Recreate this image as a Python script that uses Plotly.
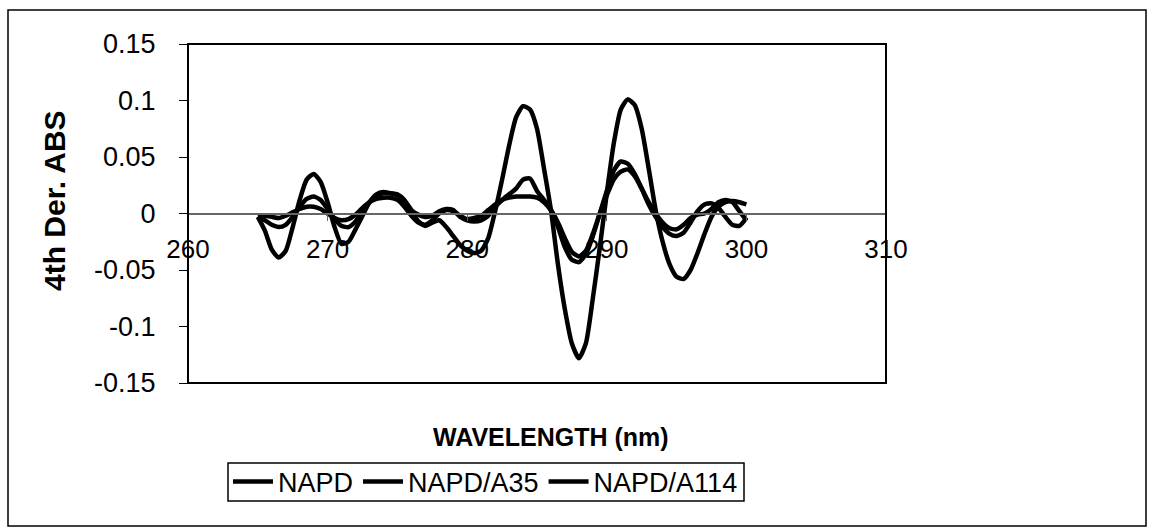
import plotly.graph_objects as go

# Wavelength grid (nm) and fourth-derivative absorbance of the three samples
wavelength = [265.0, 265.5, 266.0, 266.5, 267.0, 267.5, 268.0, 268.5, 269.0, 269.5,
              270.0, 270.5, 271.0, 271.5, 272.0, 272.5, 273.0, 273.5, 274.0, 274.5,
              275.0, 275.5, 276.0, 276.5, 277.0, 277.5, 278.0, 278.5, 279.0, 279.5,
              280.0, 280.5, 281.0, 281.5, 282.0, 282.5, 283.0, 283.5, 284.0, 284.5,
              285.0, 285.5, 286.0, 286.5, 287.0, 287.5, 288.0, 288.5, 289.0, 289.5,
              290.0, 290.5, 291.0, 291.5, 292.0, 292.5, 293.0, 293.5, 294.0, 294.5,
              295.0, 295.5, 296.0, 296.5, 297.0, 297.5, 298.0, 298.5, 299.0, 299.5,
              300.0]

napd = [-0.003, -0.015, -0.032, -0.039, -0.033, -0.012, 0.012, 0.030, 0.035, 0.028,
        0.010, -0.012, -0.027, -0.025, -0.014, -0.002, 0.010, 0.017, 0.019, 0.018,
        0.017, 0.012, 0.003, -0.007, -0.011, -0.008, -0.006, -0.012, -0.020, -0.028,
        -0.033, -0.035, -0.033, -0.022, 0.002, 0.030, 0.060, 0.085, 0.095, 0.092,
        0.075, 0.040, 0.003, -0.045, -0.085, -0.115, -0.128, -0.115, -0.075, -0.030,
        0.018, 0.062, 0.092, 0.101, 0.096, 0.075, 0.040, 0.003, -0.025, -0.045,
        -0.056, -0.058, -0.050, -0.035, -0.018, -0.003, 0.006, 0.010, 0.011, 0.010,
        0.008]

napd_a35 = [-0.003, -0.006, -0.010, -0.012, -0.010, -0.003, 0.006, 0.013, 0.015, 0.012,
            0.004, -0.005, -0.011, -0.012, -0.007, 0.002, 0.010, 0.016, 0.018, 0.018,
            0.016, 0.010, 0.003, -0.001, -0.003, -0.002, 0.002, 0.004, 0.003, -0.003,
            -0.006, -0.007, -0.006, -0.002, 0.006, 0.012, 0.017, 0.022, 0.030, 0.031,
            0.020, 0.012, 0.003, -0.012, -0.030, -0.041, -0.043, -0.036, -0.020, 0.000,
            0.020, 0.038, 0.046, 0.044, 0.035, 0.022, 0.008, -0.003, -0.012, -0.018,
            -0.020, -0.017, -0.008, 0.002, 0.008, 0.009, 0.005, -0.003, -0.010, -0.011,
            -0.004]

napd_a114 = [-0.002, -0.002, -0.003, -0.004, -0.002, 0.001, 0.004, 0.006, 0.006, 0.004,
             0.000, -0.004, -0.006, -0.005, -0.001, 0.005, 0.010, 0.013, 0.014, 0.014,
             0.012, 0.006, -0.002, -0.008, -0.010, -0.006, 0.000, 0.003, 0.002, -0.002,
             -0.005, -0.004, -0.002, 0.003, 0.008, 0.012, 0.014, 0.015, 0.015, 0.015,
             0.014, 0.010, 0.003, -0.008, -0.022, -0.034, -0.038, -0.033, -0.018, 0.000,
             0.016, 0.030, 0.037, 0.039, 0.033, 0.022, 0.010, 0.000, -0.008, -0.013,
             -0.014, -0.010, -0.004, -0.001, 0.000, 0.004, 0.010, 0.012, 0.010, 0.002,
             -0.006]

series_names = ["NAPD", "NAPD/A35", "NAPD/A114"]

y_tick_values = [-0.15, -0.1, -0.05, 0, 0.05, 0.1, 0.15]
y_tick_labels = ["-0.15", "-0.1", "-0.05", "0", "0.05", "0.1", "0.15"]
x_tick_values = [260, 270, 280, 290, 300, 310]
x_tick_labels = ["260", "270", "280", "290", "300", "310"]

FONT = "Liberation Sans, Arial, sans-serif"

fig = go.Figure()
for name, values in zip(series_names, [napd, napd_a35, napd_a114]):
    fig.add_trace(go.Scatter(
        x=wavelength, y=values, name=name, mode="lines",
        line=dict(color="black", width=4.5, shape="spline", smoothing=0.6),
    ))

# plot area in pixels: left 188, right 886, top 44, bottom 383
W, H = 1154, 531
L, R, T, B = 188, 886, 44, 383
pw, ph = R - L, B - T


def px_to_paper_x(px):
    return (px - L) / pw


def py_to_paper_y(py):
    return (B - py) / ph


fig.update_layout(
    width=W, height=H,
    margin=dict(l=L, r=W - R, t=T, b=H - B),
    paper_bgcolor="white",
    plot_bgcolor="white",
    font=dict(family=FONT, color="black", size=26),
    showlegend=True,
    legend=dict(
        orientation="h",
        x=px_to_paper_x(228), xanchor="left",
        y=py_to_paper_y(482), yanchor="middle",
        bgcolor="rgba(0,0,0,0)",
        borderwidth=0,
        font=dict(family=FONT, size=27, color="black"),
        itemwidth=40,
        tracegroupgap=0,
    ),
    xaxis=dict(
        range=[260, 310],
        tickvals=x_tick_values, ticktext=x_tick_labels,
        anchor="free", position=0.5,
        showline=True, linecolor="#666666", linewidth=2,
        ticks="outside", ticklen=6, tickcolor="#666666", tickwidth=1,
        ticklabelstandoff=6,
        showgrid=False, zeroline=False,
        tickfont=dict(family=FONT, size=26, color="black"),
    ),
    yaxis=dict(
        range=[-0.15, 0.15],
        tickvals=y_tick_values, ticktext=y_tick_labels,
        showline=True, linecolor="black", linewidth=1,
        ticks="outside", ticklen=8, tickcolor="black",
        ticklabelstandoff=18,
        showgrid=False, zeroline=False,
        tickfont=dict(family=FONT, size=27, color="black"),
    ),
    shapes=[
        # plot-area frame
        dict(type="rect", xref="paper", yref="paper", x0=0, x1=1, y0=0, y1=1,
             line=dict(color="black", width=2), layer="above"),
        # outer chart frame
        dict(type="rect", xref="paper", yref="paper",
             x0=px_to_paper_x(8), x1=px_to_paper_x(1146),
             y0=py_to_paper_y(526), y1=py_to_paper_y(10),
             line=dict(color="black", width=1.5), layer="below"),
        # legend frame
        dict(type="rect", xref="paper", yref="paper",
             x0=px_to_paper_x(228), x1=px_to_paper_x(744),
             y0=py_to_paper_y(501), y1=py_to_paper_y(463),
             line=dict(color="black", width=1.5), layer="below"),
    ],
    annotations=[
        dict(text="<b>WAVELENGTH (nm)</b>", xref="paper", yref="paper",
             x=px_to_paper_x(551), y=py_to_paper_y(437),
             xanchor="center", yanchor="middle",
             showarrow=False, font=dict(family=FONT, size=25, color="black")),
        dict(text="<b>4th Der. ABS</b>", xref="paper", yref="paper",
             x=px_to_paper_x(54), y=py_to_paper_y(201),
             xanchor="center", yanchor="middle", textangle=-90,
             showarrow=False, font=dict(family=FONT, size=30, color="black")),
    ],
)

fig.write_html("out.html", config={"displayModeBar": False})
